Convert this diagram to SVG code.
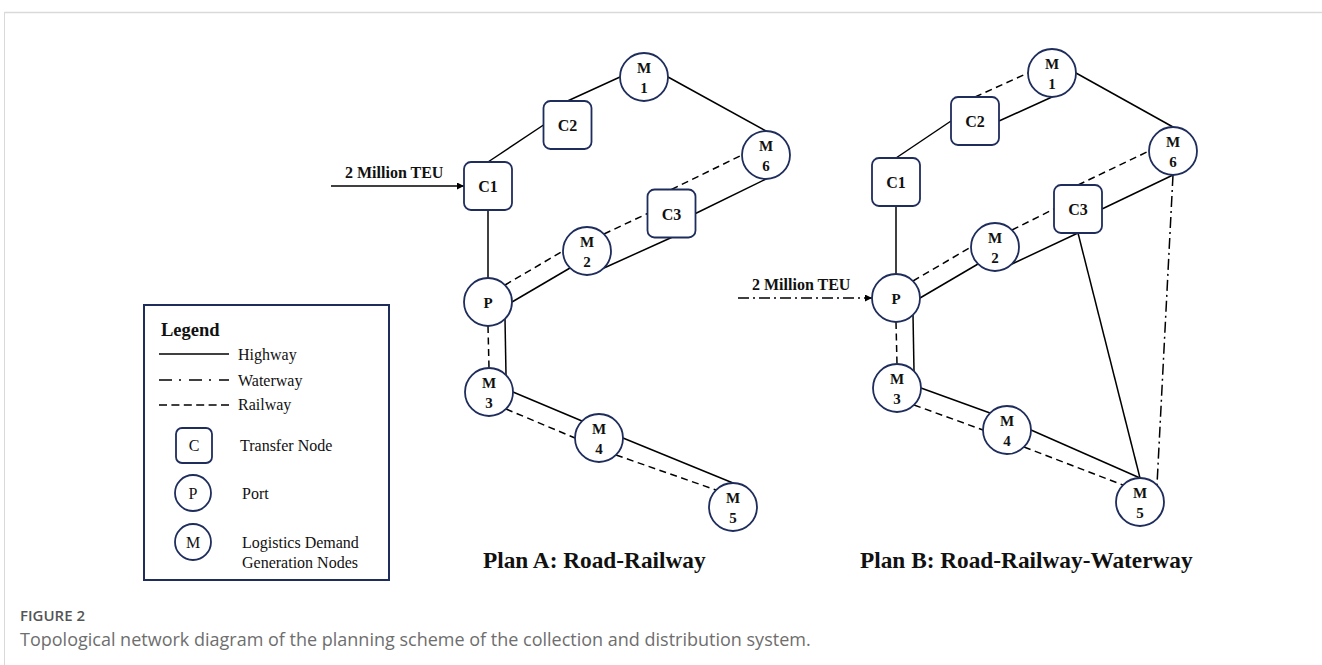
<svg xmlns="http://www.w3.org/2000/svg" width="1322" height="665" viewBox="0 0 1322 665">
<style>
.frame{stroke:#d9d9d9;fill:none}
.ln{stroke:#000;stroke-width:1.5;fill:none}
.rail{stroke:#000;stroke-width:1.5;fill:none;stroke-dasharray:7,4.5}
.water{stroke:#000;stroke-width:1.5;fill:none;stroke-dasharray:11,4,2,4}
.nd{fill:#fff;stroke:#1f2d5c;stroke-width:1.8}
.nt{font-family:"Liberation Serif","Times New Roman",serif;font-weight:bold;font-size:15px;fill:#111;text-anchor:middle}
.ct{font-family:"Liberation Serif","Times New Roman",serif;font-weight:bold;font-size:16px;fill:#111;text-anchor:middle}
.lbl{font-family:"Liberation Serif","Times New Roman",serif;font-weight:bold;font-size:16px;fill:#111}
.title{font-family:"Liberation Serif","Times New Roman",serif;font-weight:bold;font-size:23.3px;fill:#111}
.lg{font-family:"Liberation Serif","Times New Roman",serif;font-size:16px;fill:#111}
.cap{font-family:"Open Sans","Liberation Sans",sans-serif;font-size:18px;fill:#6e6e6e}
.fig{font-family:"Open Sans","Liberation Sans",sans-serif;font-size:15px;font-weight:600;fill:#555}
</style>
<defs>
<marker id="ah" viewBox="0 0 10 10" refX="10" refY="5" markerWidth="8" markerHeight="7" markerUnits="userSpaceOnUse" orient="auto">
<path d="M0,0 L10,5 L0,10 z" fill="#000"/>
</marker>
</defs>
<rect width="1322" height="665" fill="#fff"/>
<g id="frame">
<line class="frame" x1="4.5" y1="12.5" x2="1322" y2="12.5" stroke-width="1.5"/>
<line class="frame" x1="4.5" y1="12" x2="4.5" y2="665" stroke-width="1"/>
</g>

<g id="connectors-planA">
<line class="ln" x1="488" y1="162" x2="543.5" y2="125"/>
<line class="ln" x1="567.5" y1="101" x2="620" y2="77"/>
<line class="ln" x1="668" y1="77" x2="766" y2="131"/>
<line class="ln" x1="488" y1="210" x2="488" y2="278"/>
<line class="rail" x1="505" y1="285" x2="563" y2="251"/>
<line class="ln" x1="512" y1="302" x2="570" y2="268"/>
<line class="rail" x1="604" y1="234" x2="647.5" y2="213.5"/>
<line class="ln" x1="604" y1="268" x2="671.5" y2="237.5"/>
<line class="rail" x1="671.5" y1="189.5" x2="742" y2="155"/>
<line class="ln" x1="695.5" y1="213.5" x2="766" y2="179"/>
<line class="rail" x1="488" y1="326" x2="489" y2="368"/>
<line class="ln" x1="505" y1="319" x2="506" y2="375"/>
<line class="ln" x1="513" y1="392" x2="582" y2="421"/>
<line class="rail" x1="506" y1="409" x2="575" y2="438"/>
<line class="ln" x1="623" y1="438" x2="733" y2="483"/>
<line class="rail" x1="616" y1="455" x2="716" y2="490"/>
<line class="ln" x1="331" y1="186" x2="464" y2="186" marker-end="url(#ah)"/>
</g>

<g id="connectors-planB">
<line class="ln" x1="896" y1="158" x2="951" y2="121"/>
<line class="ln" x1="999" y1="121" x2="1052" y2="97"/>
<line class="rail" x1="975" y1="97" x2="1028" y2="73"/>
<line class="ln" x1="1076" y1="73" x2="1173" y2="127"/>
<line class="ln" x1="896" y1="206" x2="896" y2="274"/>
<line class="rail" x1="913" y1="281" x2="971" y2="247"/>
<line class="ln" x1="920" y1="298" x2="978" y2="264"/>
<line class="rail" x1="1012" y1="230" x2="1054" y2="209"/>
<line class="ln" x1="1012" y1="264" x2="1078" y2="233"/>
<line class="rail" x1="1078" y1="185" x2="1149" y2="151"/>
<line class="ln" x1="1102" y1="209" x2="1173" y2="175"/>
<line class="rail" x1="896" y1="322" x2="897" y2="364"/>
<line class="ln" x1="913" y1="315" x2="914" y2="371"/>
<line class="ln" x1="921" y1="388" x2="990" y2="413"/>
<line class="rail" x1="914" y1="405" x2="983" y2="430"/>
<line class="ln" x1="1031" y1="430" x2="1140" y2="478"/>
<line class="rail" x1="1024" y1="447" x2="1123" y2="485"/>
<line class="ln" x1="1078" y1="233" x2="1140" y2="478"/>
<line class="water" x1="1173" y1="175" x2="1157" y2="485"/>
<line class="water" x1="738" y1="298" x2="872" y2="298" marker-end="url(#ah)"/>
</g>

<g id="planA-label">
<text class="lbl" x="345" y="178">2 Million TEU</text>
<text class="title" x="483" y="568">Plan A: Road-Railway</text>
</g>
<g id="A-C1"><rect class="nd" x="464" y="162" width="48" height="48" rx="7"/><text class="ct" x="488" y="192">C1</text></g>
<g id="A-C2"><rect class="nd" x="543.5" y="101" width="48" height="48" rx="7"/><text class="ct" x="567.5" y="131">C2</text></g>
<g id="A-C3"><rect class="nd" x="647.5" y="189.5" width="48" height="48" rx="7"/><text class="ct" x="671.5" y="219.5">C3</text></g>
<g id="A-M1"><circle class="nd" cx="644" cy="77" r="24"/><text class="nt" x="644" y="73">M</text><text class="nt" x="644" y="93">1</text></g>
<g id="A-M6"><circle class="nd" cx="766" cy="155" r="24"/><text class="nt" x="766" y="151">M</text><text class="nt" x="766" y="171">6</text></g>
<g id="A-M2"><circle class="nd" cx="587" cy="251" r="24"/><text class="nt" x="587" y="247">M</text><text class="nt" x="587" y="267">2</text></g>
<g id="A-P"><circle class="nd" cx="488" cy="302" r="24"/><text class="nt" x="488" y="308">P</text></g>
<g id="A-M3"><circle class="nd" cx="489" cy="392" r="24"/><text class="nt" x="489" y="388">M</text><text class="nt" x="489" y="408">3</text></g>
<g id="A-M4"><circle class="nd" cx="599" cy="438" r="24"/><text class="nt" x="599" y="434">M</text><text class="nt" x="599" y="454">4</text></g>
<g id="A-M5"><circle class="nd" cx="733" cy="507" r="24"/><text class="nt" x="733" y="503">M</text><text class="nt" x="733" y="523">5</text></g>

<g id="planB-label">
<text class="lbl" x="752" y="290">2 Million TEU</text>
<text class="title" x="860" y="568">Plan B: Road-Railway-Waterway</text>
</g>
<g id="B-C1"><rect class="nd" x="872" y="158" width="48" height="48" rx="7"/><text class="ct" x="896" y="188">C1</text></g>
<g id="B-C2"><rect class="nd" x="951" y="97" width="48" height="48" rx="7"/><text class="ct" x="975" y="127">C2</text></g>
<g id="B-C3"><rect class="nd" x="1054" y="185" width="48" height="48" rx="7"/><text class="ct" x="1078" y="215">C3</text></g>
<g id="B-M1"><circle class="nd" cx="1052" cy="73" r="24"/><text class="nt" x="1052" y="69">M</text><text class="nt" x="1052" y="89">1</text></g>
<g id="B-M6"><circle class="nd" cx="1173" cy="151" r="24"/><text class="nt" x="1173" y="147">M</text><text class="nt" x="1173" y="167">6</text></g>
<g id="B-M2"><circle class="nd" cx="995" cy="247" r="24"/><text class="nt" x="995" y="243">M</text><text class="nt" x="995" y="263">2</text></g>
<g id="B-P"><circle class="nd" cx="896" cy="298" r="24"/><text class="nt" x="896" y="304">P</text></g>
<g id="B-M3"><circle class="nd" cx="897" cy="388" r="24"/><text class="nt" x="897" y="384">M</text><text class="nt" x="897" y="404">3</text></g>
<g id="B-M4"><circle class="nd" cx="1007" cy="430" r="24"/><text class="nt" x="1007" y="426">M</text><text class="nt" x="1007" y="446">4</text></g>
<g id="B-M5"><circle class="nd" cx="1140" cy="502" r="24"/><text class="nt" x="1140" y="498">M</text><text class="nt" x="1140" y="518">5</text></g>

<g id="legend">
<rect x="144" y="305" width="245" height="275" fill="#fff" stroke="#1f2d5c" stroke-width="2"/>
<text x="161" y="336" font-family="Liberation Serif, Times New Roman, serif" font-weight="bold" font-size="18.5" fill="#111">Legend</text>
<line class="ln" x1="159" y1="354" x2="229" y2="354"/>
<text class="lg" x="238" y="360">Highway</text>
<line x1="159" y1="380" x2="229" y2="380" stroke="#000" stroke-width="1.5" stroke-dasharray="13,7,2,8"/>
<text class="lg" x="238" y="386">Waterway</text>
<line x1="159" y1="405" x2="229" y2="405" stroke="#000" stroke-width="1.5" stroke-dasharray="8,4.4"/>
<text class="lg" x="238" y="410">Railway</text>
<rect class="nd" x="176" y="428" width="36" height="35" rx="6"/>
<text class="lg" x="194" y="451" text-anchor="middle">C</text>
<text class="lg" x="240" y="451">Transfer Node</text>
<circle class="nd" cx="193" cy="493" r="18"/>
<text class="lg" x="193" y="499" text-anchor="middle">P</text>
<text class="lg" x="242" y="499">Port</text>
<circle class="nd" cx="193" cy="542" r="18"/>
<text class="lg" x="193" y="548" text-anchor="middle">M</text>
<text class="lg" x="242" y="548">Logistics Demand</text>
<text class="lg" x="242" y="568">Generation Nodes</text>
</g>

<g id="caption">
<text class="fig" x="20" y="621">FIGURE 2</text>
<text class="cap" x="20" y="646">Topological network diagram of the planning scheme of the collection and distribution system.</text>
</g>
</svg>
